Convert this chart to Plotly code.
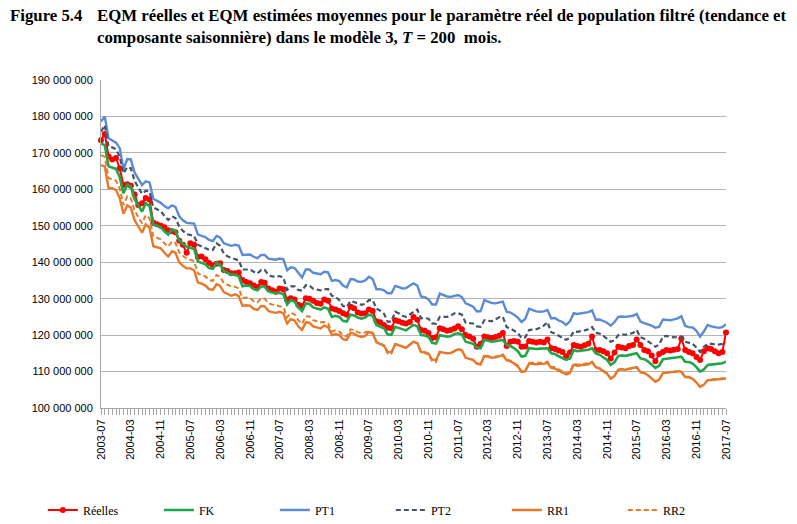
import plotly.graph_objects as go
import pandas as pd

# ---------------- data (values in millions) ----------------
months = pd.date_range("2003-07-01", "2017-07-01", freq="MS")  # 169 monthly points
tick_months = months[::8]
tick_labels = [d.strftime("%Y-%m") for d in tick_months]

y_tickvals = [100, 110, 120, 130, 140, 150, 160, 170, 180, 190]
y_ticktext = ["100 000 000", "110 000 000", "120 000 000", "130 000 000", "140 000 000",
              "150 000 000", "160 000 000", "170 000 000", "180 000 000", "190 000 000"]

reelles = [
    173.5, 175.2, 169.0, 168.2, 168.6, 165.8, 161.2, 161.4, 161.0, 158.6, 155.7, 156.2,
    157.6, 157.2, 150.8, 150.4, 150.0, 149.6, 148.8, 148.5, 148.2, 145.9, 144.8, 142.6,
    145.2, 144.8, 141.4, 141.6, 140.8, 139.8, 139.2, 139.6, 139.7, 137.9, 137.6, 137.0,
    137.0, 137.2, 135.1, 134.6, 134.2, 133.6, 133.2, 134.6, 134.4, 132.8, 132.3, 131.9,
    132.8, 132.6, 129.6, 130.1, 129.8, 128.3, 128.0, 130.1, 130.0, 129.4, 128.8, 128.6,
    129.8, 129.4, 127.3, 127.0, 126.6, 126.0, 125.6, 127.8, 127.4, 126.2, 125.9, 126.0,
    127.0, 126.6, 123.8, 123.5, 122.8, 122.0, 121.9, 124.1, 123.8, 123.4, 123.2, 123.6,
    125.0, 124.2, 121.4, 121.2, 120.6, 119.2, 119.4, 121.9, 121.6, 121.2, 121.4, 121.8,
    122.4, 121.6, 120.0, 119.6, 119.0, 116.8, 117.6, 119.6, 119.4, 119.2, 119.5, 119.8,
    120.6, 117.0, 118.2, 118.4, 118.2, 116.8, 116.9, 118.4, 118.2, 118.0, 118.2, 118.0,
    118.8, 116.4, 116.2, 115.8, 115.4, 114.2, 115.2, 117.3, 117.0, 116.8, 117.2, 117.6,
    119.6, 115.9, 115.9, 115.6, 115.0, 113.6, 115.2, 116.8, 116.6, 116.4, 117.0, 117.3,
    118.8, 117.3, 115.9, 115.6, 114.4, 112.8, 114.8, 115.4, 115.9, 115.8, 116.0, 116.2,
    119.1, 115.9, 115.4, 115.0, 114.0, 113.2, 115.6, 116.4, 116.2, 115.6, 115.0, 115.4,
    120.7,
]

fk = [
    172.6, 172.1, 166.3, 166.0, 165.6, 163.4, 158.9, 161.3, 160.8, 157.3, 155.6, 153.9,
    156.2, 155.4, 150.4, 150.0, 149.6, 148.5, 147.6, 149.0, 148.6, 146.0, 145.0, 144.3,
    144.0, 143.6, 140.2, 139.9, 139.4, 138.4, 138.2, 139.8, 139.3, 137.6, 137.0, 136.6,
    136.6, 136.1, 133.4, 133.6, 133.5, 132.6, 132.3, 133.4, 133.3, 132.0, 131.7, 131.5,
    131.6, 131.2, 128.4, 129.6, 129.2, 127.6, 126.6, 128.7, 128.6, 127.6, 127.3, 127.0,
    127.6, 127.2, 125.0, 125.3, 125.0, 123.9, 123.7, 125.6, 125.4, 124.8, 124.5, 124.8,
    125.6, 125.3, 122.8, 122.4, 121.9, 120.2, 120.1, 122.3, 122.0, 121.5, 121.3, 122.1,
    122.8, 122.4, 120.0, 119.9, 119.5, 117.9, 117.7, 120.0, 119.8, 119.6, 119.7, 120.3,
    120.5, 120.2, 118.2, 117.9, 117.6, 116.6, 116.4, 118.7, 118.5, 118.2, 118.3, 118.5,
    118.7, 117.3, 117.0, 116.4, 115.6, 114.1, 114.3, 116.4, 116.3, 116.2, 116.3, 116.3,
    116.4, 115.0, 114.8, 114.2, 113.8, 113.2, 113.6, 115.9, 115.6, 115.7, 115.9, 116.0,
    116.4, 115.0, 114.6, 114.0, 113.2, 111.8, 112.6, 114.3, 114.4, 114.3, 114.5, 114.7,
    115.0, 113.6, 113.4, 112.8, 112.0, 111.0, 111.6, 113.4, 113.5, 113.6, 113.8, 113.9,
    114.1, 112.7, 112.6, 112.2, 111.2, 110.0, 110.6, 111.8, 111.9, 112.0, 112.1, 112.3,
    112.7,
]

pt1 = [
    178.6, 180.0, 174.0, 173.5, 172.8, 171.3, 165.5, 168.3, 168.2, 164.6, 163.0, 161.2,
    162.2, 161.9, 157.4, 156.8, 156.3, 155.4, 154.8, 155.6, 155.2, 152.6, 151.5, 150.8,
    150.6, 150.6, 147.6, 147.3, 146.9, 146.1, 145.8, 147.2, 146.8, 145.2, 144.8, 144.5,
    144.8, 144.6, 142.0, 142.1, 142.1, 141.5, 141.1, 142.0, 142.0, 141.0, 140.8, 140.7,
    141.0, 140.8, 137.8, 138.6, 138.4, 137.2, 135.8, 138.0, 138.0, 137.1, 136.9, 136.7,
    137.4, 137.2, 134.9, 135.1, 134.8, 133.6, 133.1, 135.4, 135.3, 134.7, 134.6, 135.0,
    136.0, 135.4, 132.6, 132.6, 132.3, 131.5, 131.5, 133.5, 133.2, 132.8, 132.9, 133.6,
    134.2, 133.6, 130.6, 130.4, 129.8, 128.4, 128.4, 131.4, 131.0, 130.6, 130.5, 130.8,
    131.0, 130.4, 128.7, 128.3, 127.8, 126.5, 126.6, 129.6, 129.2, 128.8, 128.7, 128.9,
    129.2, 126.4, 126.2, 125.6, 124.8, 123.6, 124.5, 127.2, 126.8, 126.5, 126.4, 126.5,
    126.9, 124.6, 124.7, 124.0, 123.6, 122.8, 123.8, 126.0, 125.8, 125.9, 126.1, 126.3,
    126.8, 124.2, 124.3, 123.8, 123.4, 122.6, 123.6, 125.0, 125.1, 125.0, 125.2, 125.3,
    125.8, 123.7, 123.3, 123.0, 122.6, 122.0, 122.3, 124.3, 124.2, 124.1, 124.3, 124.6,
    125.2, 122.5, 122.2, 122.1, 121.2, 119.6, 121.0, 122.8, 122.4, 122.1, 122.0, 122.2,
    123.0,
]

pt2 = [
    175.8, 177.6, 171.7, 171.5, 171.0, 168.9, 164.4, 166.1, 165.8, 162.3, 160.5, 158.8,
    159.6, 159.4, 155.0, 154.5, 154.0, 152.7, 151.6, 152.6, 152.1, 149.8, 148.6, 147.7,
    147.5, 147.2, 144.8, 144.3, 144.0, 143.4, 143.4, 145.2, 144.5, 142.4, 141.6, 141.2,
    140.8, 140.5, 138.0, 138.0, 138.0, 137.4, 136.9, 137.9, 137.9, 136.5, 136.1, 136.0,
    136.2, 135.8, 132.4, 133.4, 133.4, 132.4, 132.2, 133.7, 133.6, 132.7, 132.5, 132.3,
    132.6, 132.6, 130.8, 130.5, 129.6, 128.0, 127.7, 129.4, 129.1, 128.6, 128.3, 128.6,
    129.6, 129.6, 127.3, 126.7, 125.9, 123.7, 123.7, 126.4, 126.0, 125.3, 125.0, 125.7,
    126.4, 127.0, 124.6, 124.7, 124.5, 123.2, 123.1, 125.0, 125.0, 125.0, 125.3, 126.0,
    126.0, 125.6, 123.4, 123.3, 123.2, 122.4, 122.3, 124.1, 123.9, 123.8, 124.3, 124.9,
    125.0, 122.2, 121.8, 121.3, 120.6, 119.2, 119.4, 121.4, 121.4, 121.6, 122.0, 122.6,
    123.6, 120.8, 120.4, 119.8, 119.3, 118.7, 119.2, 121.0, 120.9, 121.0, 121.3, 121.6,
    122.2, 120.6, 120.4, 119.8, 119.0, 118.2, 118.6, 120.0, 120.2, 120.1, 120.3, 120.6,
    121.4, 119.4, 119.0, 118.4, 117.6, 116.8, 117.4, 119.6, 119.8, 119.6, 119.4, 119.5,
    119.6, 118.2, 118.0, 117.6, 116.6, 115.4, 116.8, 117.6, 117.6, 117.5, 117.4, 117.6,
    117.9,
]

rr1 = [
    166.6, 166.3, 160.3, 160.3, 159.8, 157.6, 153.3, 155.6, 155.0, 151.5, 149.8, 148.1,
    150.4, 149.4, 144.4, 144.2, 143.8, 142.6, 141.6, 143.0, 142.6, 140.0, 139.0, 138.3,
    138.3, 137.8, 134.4, 134.1, 133.6, 132.6, 132.4, 134.0, 133.5, 131.8, 131.2, 130.8,
    131.2, 130.7, 128.0, 128.2, 128.1, 127.2, 126.9, 128.0, 127.9, 126.6, 126.3, 126.1,
    126.4, 126.0, 123.2, 124.4, 124.0, 122.4, 121.4, 123.5, 123.4, 122.4, 122.1, 121.8,
    122.6, 122.2, 120.0, 120.3, 120.0, 118.9, 118.7, 120.6, 120.4, 119.8, 119.5, 119.8,
    120.8, 120.5, 118.0, 117.6, 117.1, 115.4, 115.3, 117.5, 117.2, 116.7, 116.5, 117.3,
    118.2, 117.8, 115.4, 115.3, 114.9, 113.3, 113.1, 115.4, 115.2, 115.0, 115.1, 115.7,
    116.1, 115.8, 113.8, 113.5, 113.2, 112.2, 112.0, 114.3, 114.1, 113.8, 113.9, 114.1,
    114.5, 113.1, 112.8, 112.2, 111.4, 109.9, 110.1, 112.2, 112.1, 112.0, 112.1, 112.1,
    112.4, 111.0, 110.8, 110.2, 109.8, 109.2, 109.6, 111.9, 111.6, 111.7, 111.9, 112.0,
    112.6, 111.2, 110.8, 110.2, 109.4, 108.0, 108.8, 110.5, 110.6, 110.5, 110.7, 110.9,
    111.2, 109.8, 109.6, 109.0, 108.2, 107.2, 107.8, 109.6, 109.7, 109.8, 110.0, 110.1,
    109.9, 108.5, 108.4, 108.0, 107.0, 105.8, 106.4, 107.6, 107.7, 107.8, 107.9, 108.1,
    108.1,
]

rr2 = [
    169.4, 168.9, 163.1, 162.8, 162.4, 160.2, 155.7, 158.1, 157.6, 154.1, 152.4, 150.7,
    152.9, 152.1, 147.1, 146.7, 146.3, 145.2, 144.3, 145.7, 145.3, 142.7, 141.7, 141.0,
    140.7, 140.3, 136.9, 136.6, 136.1, 135.1, 134.9, 136.5, 136.0, 134.3, 133.7, 133.3,
    133.3, 132.8, 130.1, 130.3, 130.2, 129.3, 129.0, 130.1, 130.0, 128.7, 128.4, 128.2,
    128.1, 127.7, 124.9, 126.1, 125.7, 124.1, 123.1, 125.2, 125.1, 124.1, 123.8, 123.5,
    123.6, 123.2, 121.0, 121.3, 121.0, 119.9, 119.7, 121.6, 121.4, 120.8, 120.5, 120.8,
    121.0, 120.7, 118.2, 117.8, 117.1, 115.0, 114.9, 117.6, 117.4, 116.9, 116.7, 117.5,
    118.2, 117.8, 115.2, 115.1, 114.7, 112.8, 112.6, 115.3, 115.1, 115.0, 115.1, 115.7,
    116.2, 115.9, 113.8, 113.5, 113.2, 112.2, 112.0, 114.5, 114.3, 114.0, 114.1, 114.2,
    114.7, 113.3, 113.0, 112.4, 111.6, 110.0, 110.3, 112.4, 112.4, 112.3, 112.4, 112.4,
    112.7, 111.3, 111.2, 110.6, 110.2, 109.5, 109.9, 112.2, 111.9, 112.0, 112.2, 112.3,
    112.7, 111.3, 110.9, 110.3, 109.5, 108.1, 108.9, 110.6, 110.7, 110.6, 110.8, 111.0,
    111.2, 109.8, 109.6, 109.0, 108.2, 107.2, 107.8, 109.6, 109.7, 109.8, 110.0, 110.1,
    110.0, 108.6, 108.5, 108.1, 107.1, 105.9, 106.5, 107.7, 107.8, 107.9, 108.0, 108.2,
    108.2,
]

# ---------------- figure ----------------
fig = go.Figure()

fig.add_trace(go.Scatter(x=months, y=reelles, name="Réelles", mode="lines+markers",
                         line=dict(color="#FF0000", width=2),
                         marker=dict(color="#FF0000", size=6), cliponaxis=False))
fig.add_trace(go.Scatter(x=months, y=fk, name="FK", mode="lines",
                         line=dict(color="#1FA64A", width=2.6)))
fig.add_trace(go.Scatter(x=months, y=pt1, name="PT1", mode="lines",
                         line=dict(color="#5B8BD4", width=2.4)))
fig.add_trace(go.Scatter(x=months, y=pt2, name="PT2", mode="lines",
                         line=dict(color="#44546A", width=2.2, dash="5px,3px")))
fig.add_trace(go.Scatter(x=months, y=rr1, name="RR1", mode="lines",
                         line=dict(color="#E8782A", width=2.4)))
fig.add_trace(go.Scatter(x=months, y=rr2, name="RR2", mode="lines",
                         line=dict(color="#E8782A", width=2.0, dash="5px,3px")))

axis_grey = "#A6A6A6"

fig.update_layout(
    width=797, height=524, autosize=False,
    margin=dict(l=101, r=71, t=80, b=116, autoexpand=False),
    paper_bgcolor="white", plot_bgcolor="white",
    showlegend=True,
    legend=dict(orientation="h", x=-0.093, xanchor="left", y=-0.311, yanchor="middle",
                entrywidth=71, entrywidthmode="pixels",
                font=dict(family="Liberation Serif", size=12, color="black"),
                bgcolor="rgba(0,0,0,0)"),
    xaxis=dict(type="date", range=[months[0], months[-1]],
               tickmode="array", tickvals=tick_months, ticktext=tick_labels,
               tickangle=-90, showgrid=False, zeroline=False,
               showline=True, linecolor=axis_grey, linewidth=1,
               ticks="outside", ticklen=6, tickcolor=axis_grey,
               minor=dict(ticks="outside", ticklen=6, dtick="M1", tick0="2003-07-01",
                          tickcolor=axis_grey, showgrid=False),
               tickfont=dict(family="Liberation Sans", size=11, color="black")),
    yaxis=dict(range=[100, 190], tickmode="array", tickvals=y_tickvals, ticktext=y_ticktext,
               showgrid=True, gridcolor="#B4B4B4", gridwidth=1.2, zeroline=False,
               showline=True, linecolor=axis_grey, linewidth=1, ticks="",
               ticklabelstandoff=5,
               tickfont=dict(family="Liberation Sans", size=11, color="black")),
)

title_font = dict(family="Liberation Serif", size=16.8, color="black")
fig.add_annotation(text="<b>Figure 5.4</b>", xref="paper", yref="paper",
                   x=-0.1488, y=(408 - 4) / 328, xanchor="left", yanchor="top",
                   showarrow=False, font=title_font, align="left")
fig.add_annotation(text="<b>EQM réelles et EQM estimées moyennes pour le paramètre réel de population filtré (tendance et"
                        "<br>composante saisonnière) dans le modèle 3, <i>T</i> = 200  mois.</b>",
                   xref="paper", yref="paper",
                   x=(95 - 101) / 625, y=(408 - 4) / 328, xanchor="left", yanchor="top",
                   showarrow=False, font=title_font, align="left")

fig.write_html("out.html")
